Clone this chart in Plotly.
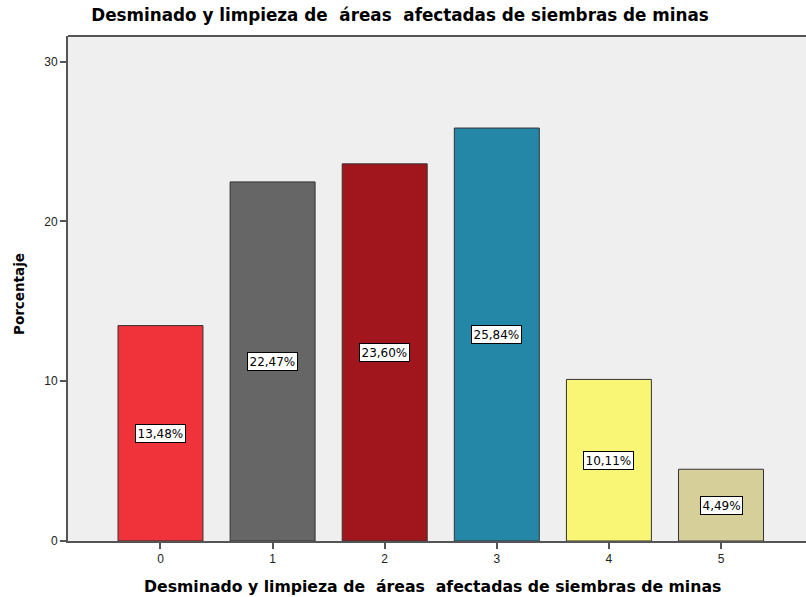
import plotly.graph_objects as go

categories = [0, 1, 2, 3, 4, 5]
values = [13.48, 22.47, 23.60, 25.84, 10.11, 4.49]
colors = ["#F0323A", "#666666", "#A0161C", "#2487A8", "#FAF675", "#D6CF9A"]
title_text = "Desminado y limpieza de  áreas  afectadas de siembras de minas"
y_title = "Porcentaje"
y_ticks = [0, 10, 20, 30]

labels = [f"{v:.2f}".replace(".", ",") + "%" for v in values]

W, H = 806, 597
L, R, T, B = 68, 0, 36, 56
PW, PH = W - L - R, H - T - B

fig = go.Figure()
fig.add_trace(go.Bar(
    x=categories, y=values, width=0.758,
    marker=dict(color=colors, line=dict(color="#333333", width=1)),
    hoverinfo="skip",
))

for c, v, t in zip(categories, values, labels):
    fig.add_annotation(x=c, y=v / 2, xref="x", yref="y", text=t, showarrow=False,
                       font=dict(family="DejaVu Sans", size=12, color="#000000"),
                       bgcolor="#FFFFFF", bordercolor="#000000", borderwidth=1, borderpad=1.5)

# x-axis title
fig.add_annotation(x=(432 - L) / PW, y=-(586 - (H - B)) / PH, xref="paper", yref="paper",
                   text=f"<b>{title_text}</b>", showarrow=False, xanchor="center", yanchor="middle",
                   font=dict(family="DejaVu Sans", size=15.7, color="#000000"))
# y-axis title
fig.add_annotation(x=-(L - 19) / PW, y=((H - B) - 294) / PH, xref="paper", yref="paper",
                   text=f"<b>{y_title}</b>", showarrow=False, textangle=-90,
                   xanchor="center", yanchor="middle",
                   font=dict(family="DejaVu Sans", size=13.5, color="#000000"))

fig.add_shape(type="line", xref="paper", yref="paper", x0=0, x1=1, y0=1, y1=1,
              line=dict(color="#555555", width=2))

fig.update_layout(
    width=W, height=H,
    margin=dict(l=L, r=R, t=T, b=B),
    paper_bgcolor="#FFFFFF", plot_bgcolor="#EFEFEF",
    showlegend=False,
    title=dict(text=f"<b>{title_text}</b>", x=400 / W, xanchor="center",
               y=1 - 15 / H, yanchor="middle", yref="container",
               font=dict(family="DejaVu Sans", size=16.8, color="#000000")),
    xaxis=dict(range=[-0.825, 5.758], tickvals=categories, ticktext=[str(c) for c in categories],
               showgrid=False, zeroline=False, showline=True, linecolor="#555555", linewidth=2,
               ticks="outside", ticklen=6, tickwidth=2, tickcolor="#555555",
               tickfont=dict(family="Liberation Sans, Arial", size=12, color="#222222")),
    yaxis=dict(range=[0, 31.6], tickvals=y_ticks, showgrid=False, zeroline=False,
               showline=True, linecolor="#555555", linewidth=2,
               ticks="outside", ticklen=6, tickwidth=2, tickcolor="#555555",
               tickfont=dict(family="Liberation Sans, Arial", size=12, color="#222222")),
)

fig.write_html("out.html", config={"displayModeBar": False},
               post_script="document.body.style.margin='0';")
